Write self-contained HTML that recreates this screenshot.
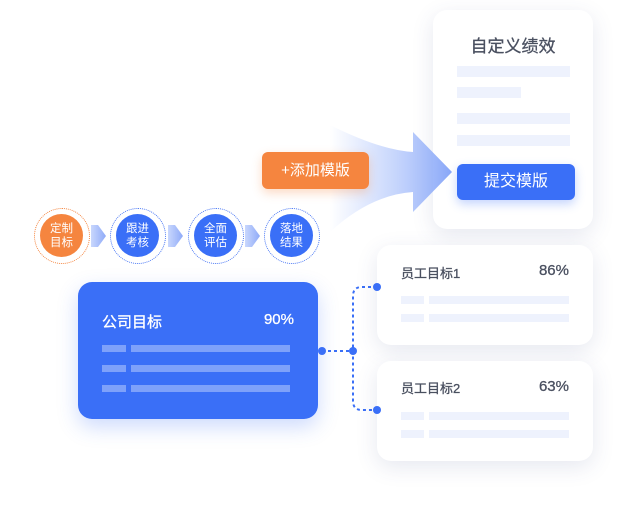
<!DOCTYPE html>
<html><head><meta charset="utf-8"><style>
body{margin:0;width:622px;height:505px;background:#fff;position:relative;overflow:hidden;font-family:"Liberation Sans","Noto Sans CJK SC",sans-serif}
.abs{position:absolute}
.card{position:absolute;background:#fff;border-radius:14px;box-shadow:0 6px 22px rgba(60,80,140,.13)}
.bar{position:absolute;background:#eef2fd;height:8px}
.wbar{position:absolute;background:rgba(255,255,255,.35);height:7px}
.circ{position:absolute;width:56px;height:56px;border-radius:50%;border:1.5px dotted #4a78f5;box-sizing:border-box;background:#fff}
.circ div{position:absolute;left:5px;top:5px;width:43px;height:43px;border-radius:50%;background:#3a6ff7;color:#fff;font-size:11.5px;line-height:14px;text-align:center;display:flex;align-items:center;justify-content:center}
</style></head><body>
<div class="card" style="left:433px;top:10px;width:160px;height:219px;border-radius:14px">
<div class="abs" style="left:0;width:160px;top:22px;text-align:center;font-size:17px;color:#4a5060;-webkit-text-stroke:0.3px #4a5060">自定义绩效</div>
<div class="bar" style="left:24px;top:56px;width:113px;height:11px"></div>
<div class="bar" style="left:24px;top:77px;width:64px;height:11px"></div>
<div class="bar" style="left:24px;top:103px;width:113px;height:11px"></div>
<div class="bar" style="left:24px;top:125px;width:113px;height:11px"></div>
<div class="abs" style="left:24px;top:154px;width:118px;height:36px;background:#3a6ff7;border-radius:6px;color:#fff;font-size:16px;line-height:36px;text-align:center;box-shadow:0 4px 10px rgba(58,111,247,.3)">提交模版</div>
</div>
<svg class="abs" style="left:0;top:0" width="622" height="505">
<defs><linearGradient id="g" x1="330" x2="450" y1="0" y2="0" gradientUnits="userSpaceOnUse"><stop offset="0" stop-color="#a9c0fb" stop-opacity="0"/><stop offset="0.5" stop-color="#a9c0fb" stop-opacity=".6"/><stop offset="1" stop-color="#8aa8f8"/></linearGradient>
<linearGradient id="c" x1="0" x2="1"><stop offset="0" stop-color="#c9d7fd"/><stop offset="1" stop-color="#8eaaf8"/></linearGradient></defs>
<path d="M330 125 Q380 150 413 152 L413 132 L452 172 L413 212 L413 192 Q370 195 330 232 Z" fill="url(#g)"/>
<path d="M91 225 L98 225 L106 236 L98 247 L91 247 Z" fill="url(#c)"/>
<path d="M168 225 L175 225 L183 236 L175 247 L168 247 Z" fill="url(#c)"/>
<path d="M245 225 L252 225 L260 236 L252 247 L245 247 Z" fill="url(#c)"/>
<path d="M322 351 L353 351 M377 287 L362 287 Q353 287 353 296 L353 401 Q353 410 362 410 L377 410" stroke="#3a6ff7" stroke-width="2" stroke-dasharray="3 3" fill="none"/>
</svg>
<div class="abs" style="left:262px;top:152px;width:107px;height:37px;background:#f5853f;border-radius:6px;color:#fff;font-size:15px;line-height:37px;text-align:center;box-shadow:0 4px 10px rgba(245,133,63,.3)">+添加模版</div>
<div class="circ" style="left:34px;top:208px;border-color:#f5853f"><div style="background:#f5853f">定制<br>目标</div></div>
<div class="circ" style="left:110px;top:208px"><div>跟进<br>考核</div></div>
<div class="circ" style="left:188px;top:208px"><div>全面<br>评估</div></div>
<div class="circ" style="left:264px;top:208px"><div>落地<br>结果</div></div>
<div class="abs" style="left:78px;top:282px;width:240px;height:137px;background:#3a6ff7;border-radius:14px;box-shadow:0 8px 20px rgba(58,111,247,.25)">
<div class="abs" style="left:24px;top:29px;color:#fff;font-size:15px;-webkit-text-stroke:0.3px #fff">公司目标</div>
<div class="abs" style="right:24px;top:29px;color:#fff;font-size:15px;-webkit-text-stroke:0.3px #fff">90%</div>
<div class="wbar" style="left:24px;top:63px;width:24px"></div><div class="wbar" style="left:53px;top:63px;width:159px"></div>
<div class="wbar" style="left:24px;top:83px;width:24px"></div><div class="wbar" style="left:53px;top:83px;width:159px"></div>
<div class="wbar" style="left:24px;top:103px;width:24px"></div><div class="wbar" style="left:53px;top:103px;width:159px"></div>
</div>
<div class="card" style="left:377px;top:245px;width:216px;height:100px">
<div class="abs" style="left:24px;top:18px;font-size:13px;color:#4a5060;-webkit-text-stroke:0.3px #4a5060">员工目标1</div>
<div class="abs" style="right:24px;top:17px;font-size:15px;color:#4a5060;-webkit-text-stroke:0.3px #4a5060">86%</div>
<div class="bar" style="left:24px;top:51px;width:23px"></div><div class="bar" style="left:52px;top:51px;width:140px"></div>
<div class="bar" style="left:24px;top:69px;width:23px"></div><div class="bar" style="left:52px;top:69px;width:140px"></div>
</div>
<div class="card" style="left:377px;top:361px;width:216px;height:100px">
<div class="abs" style="left:24px;top:17px;font-size:13px;color:#4a5060;-webkit-text-stroke:0.3px #4a5060">员工目标2</div>
<div class="abs" style="right:24px;top:17px;font-size:15px;color:#4a5060;-webkit-text-stroke:0.3px #4a5060">63%</div>
<div class="bar" style="left:24px;top:51px;width:23px"></div><div class="bar" style="left:52px;top:51px;width:140px"></div>
<div class="bar" style="left:24px;top:69px;width:23px"></div><div class="bar" style="left:52px;top:69px;width:140px"></div>
</div>
<svg class="abs" style="left:0;top:0" width="622" height="505">
<circle cx="322" cy="351" r="4" fill="#3a6ff7"/><circle cx="353" cy="351" r="4" fill="#3a6ff7"/>
<circle cx="377" cy="287" r="4" fill="#3a6ff7"/><circle cx="377" cy="410" r="4" fill="#3a6ff7"/>
</svg>
</body></html>
